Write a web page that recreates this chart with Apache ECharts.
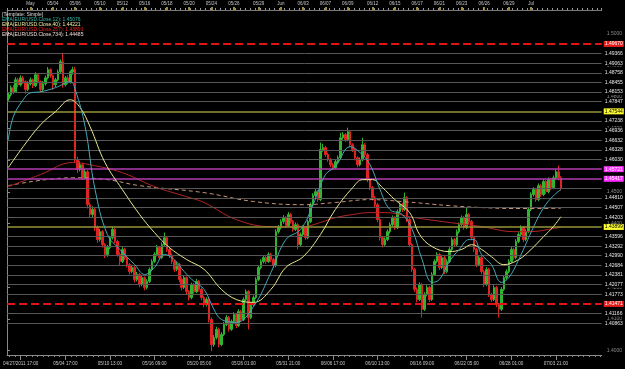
<!DOCTYPE html>
<html><head><meta charset="utf-8">
<script src="https://cdn.jsdelivr.net/npm/echarts@6/dist/echarts.min.js"></script>
<style>html,body{margin:0;padding:0;background:#000}#c{width:625px;height:369px}</style>
</head><body><div id="c"></div>
<script>
// [open, close, low, high]
const candles = [
[1.4795,1.4807,1.4788,1.4815],[1.4807,1.4829,1.4801,1.4836],[1.4829,1.4816,1.4809,1.4838],[1.4816,1.4854,1.4812,1.4862],
[1.4854,1.4838,1.4830,1.4860],[1.4838,1.4860,1.4833,1.4868],[1.4860,1.4848,1.4841,1.4866],[1.4848,1.4823,1.4810,1.4852],
[1.4823,1.4841,1.4818,1.4849],[1.4841,1.4854,1.4836,1.4861],[1.4854,1.4835,1.4828,1.4858],[1.4835,1.4870,1.4831,1.4878],
[1.4870,1.4848,1.4842,1.4874],[1.4848,1.4823,1.4815,1.4852],[1.4823,1.4841,1.4818,1.4850],[1.4841,1.4860,1.4836,1.4867],
[1.4860,1.4886,1.4855,1.4894],[1.4886,1.4867,1.4860,1.4890],[1.4867,1.4838,1.4822,1.4871],[1.4838,1.4854,1.4831,1.4860],
[1.4854,1.4879,1.4849,1.4886],[1.4879,1.4911,1.4874,1.4918],[1.4911,1.4838,1.4829,1.4939],[1.4838,1.4860,1.4833,1.4866],
[1.4860,1.4848,1.4840,1.4868],[1.4848,1.4879,1.4842,1.4884],[1.4879,1.4886,1.4870,1.4895],[1.4886,1.4602,1.4593,1.4895],
[1.4602,1.4571,1.4560,1.4611],[1.4571,1.4586,1.4565,1.4597],[1.4586,1.4545,1.4538,1.4592],[1.4545,1.4564,1.4540,1.4572],
[1.4564,1.4460,1.4448,1.4569],[1.4460,1.4429,1.4418,1.4467],[1.4429,1.4445,1.4421,1.4455],[1.4445,1.4388,1.4377,1.4450],
[1.4388,1.4350,1.4340,1.4394],[1.4350,1.4375,1.4344,1.4383],[1.4375,1.4334,1.4325,1.4380],[1.4334,1.4303,1.4292,1.4339],
[1.4303,1.4325,1.4296,1.4333],[1.4325,1.4356,1.4319,1.4362],[1.4356,1.4382,1.4350,1.4391],[1.4382,1.4344,1.4338,1.4386],
[1.4344,1.4303,1.4296,1.4350],[1.4303,1.4281,1.4270,1.4310],[1.4281,1.4319,1.4276,1.4326],[1.4319,1.4293,1.4286,1.4324],
[1.4293,1.4271,1.4262,1.4298],[1.4271,1.4249,1.4240,1.4276],[1.4249,1.4262,1.4244,1.4270],[1.4262,1.4224,1.4215,1.4266],
[1.4224,1.4240,1.4218,1.4248],[1.4240,1.4208,1.4200,1.4245],[1.4208,1.4230,1.4203,1.4237],[1.4230,1.4199,1.4190,1.4234],
[1.4199,1.4218,1.4193,1.4225],[1.4218,1.4256,1.4213,1.4262],[1.4256,1.4281,1.4250,1.4288],[1.4281,1.4303,1.4276,1.4310],
[1.4303,1.4325,1.4297,1.4333],[1.4325,1.4293,1.4286,1.4330],[1.4293,1.4334,1.4289,1.4341],[1.4334,1.4356,1.4329,1.4372],
[1.4356,1.4319,1.4311,1.4361],[1.4319,1.4300,1.4292,1.4325],[1.4300,1.4281,1.4273,1.4306],[1.4281,1.4256,1.4248,1.4286],
[1.4256,1.4271,1.4250,1.4279],[1.4271,1.4224,1.4216,1.4276],[1.4224,1.4199,1.4190,1.4230],[1.4199,1.4230,1.4194,1.4237],
[1.4230,1.4186,1.4178,1.4234],[1.4186,1.4167,1.4158,1.4191],[1.4167,1.4208,1.4162,1.4214],[1.4208,1.4186,1.4179,1.4213],
[1.4186,1.4218,1.4181,1.4226],[1.4218,1.4193,1.4186,1.4222],[1.4193,1.4167,1.4159,1.4198],[1.4167,1.4145,1.4136,1.4172],
[1.4145,1.4161,1.4139,1.4168],[1.4161,1.4098,1.4089,1.4166],[1.4098,1.4019,1.3998,1.4104],[1.4019,1.4041,1.4012,1.4049],
[1.4041,1.4067,1.4035,1.4075],[1.4067,1.4019,1.4010,1.4072],[1.4019,1.4051,1.4014,1.4058],[1.4051,1.4082,1.4046,1.4090],
[1.4082,1.4104,1.4077,1.4112],[1.4104,1.4067,1.4060,1.4109],[1.4067,1.4092,1.4062,1.4098],[1.4092,1.4114,1.4087,1.4121],
[1.4114,1.4079,1.4071,1.4119],[1.4079,1.4123,1.4074,1.4130],[1.4123,1.4098,1.4090,1.4128],[1.4098,1.4161,1.4093,1.4168],
[1.4161,1.4186,1.4155,1.4193],[1.4186,1.4104,1.4067,1.4190],[1.4104,1.4145,1.4099,1.4152],[1.4145,1.4167,1.4140,1.4174],
[1.4167,1.4224,1.4162,1.4231],[1.4224,1.4262,1.4219,1.4270],[1.4262,1.4281,1.4256,1.4288],[1.4281,1.4293,1.4275,1.4300],
[1.4293,1.4281,1.4273,1.4299],[1.4281,1.4303,1.4276,1.4310],[1.4303,1.4287,1.4279,1.4308],[1.4287,1.4268,1.4260,1.4292],
[1.4268,1.4375,1.4263,1.4382],[1.4375,1.4388,1.4369,1.4396],[1.4388,1.4407,1.4382,1.4414],[1.4407,1.4419,1.4400,1.4427],
[1.4419,1.4394,1.4387,1.4424],[1.4394,1.4429,1.4389,1.4437],[1.4429,1.4407,1.4400,1.4434],[1.4407,1.4382,1.4375,1.4412],
[1.4382,1.4397,1.4377,1.4404],[1.4397,1.4334,1.4319,1.4402],[1.4334,1.4366,1.4329,1.4372],[1.4366,1.4388,1.4360,1.4395],
[1.4388,1.4356,1.4349,1.4392],[1.4356,1.4407,1.4351,1.4413],[1.4407,1.4460,1.4402,1.4467],[1.4460,1.4489,1.4455,1.4496],
[1.4489,1.4501,1.4483,1.4509],[1.4501,1.4476,1.4469,1.4506],[1.4476,1.4634,1.4471,1.4656],[1.4634,1.4640,1.4627,1.4652],
[1.4640,1.4618,1.4611,1.4646],[1.4618,1.4602,1.4595,1.4624],[1.4602,1.4586,1.4578,1.4607],[1.4586,1.4577,1.4569,1.4592],
[1.4577,1.4596,1.4572,1.4603],[1.4596,1.4608,1.4590,1.4615],[1.4608,1.4671,1.4603,1.4687],[1.4671,1.4681,1.4665,1.4689],
[1.4681,1.4665,1.4658,1.4686],[1.4665,1.4690,1.4660,1.4703],[1.4690,1.4649,1.4641,1.4695],[1.4649,1.4634,1.4626,1.4654],
[1.4634,1.4608,1.4600,1.4639],[1.4608,1.4586,1.4578,1.4613],[1.4586,1.4602,1.4581,1.4609],[1.4602,1.4649,1.4597,1.4671],
[1.4649,1.4618,1.4610,1.4654],[1.4618,1.4539,1.4531,1.4623],[1.4539,1.4514,1.4506,1.4545],[1.4514,1.4482,1.4474,1.4519],
[1.4482,1.4460,1.4452,1.4488],[1.4460,1.4413,1.4405,1.4466],[1.4413,1.4356,1.4347,1.4418],[1.4356,1.4334,1.4325,1.4361],
[1.4334,1.4350,1.4328,1.4357],[1.4350,1.4375,1.4345,1.4382],[1.4375,1.4397,1.4369,1.4404],[1.4397,1.4419,1.4391,1.4426],
[1.4419,1.4388,1.4381,1.4424],[1.4388,1.4438,1.4383,1.4445],[1.4438,1.4460,1.4432,1.4467],[1.4460,1.4445,1.4437,1.4466],
[1.4445,1.4482,1.4440,1.4498],[1.4482,1.4413,1.4405,1.4487],[1.4413,1.4334,1.4326,1.4418],[1.4334,1.4256,1.4248,1.4339],
[1.4256,1.4193,1.4185,1.4261],[1.4193,1.4161,1.4152,1.4199],[1.4161,1.4208,1.4156,1.4215],[1.4208,1.4130,1.4104,1.4213],
[1.4130,1.4177,1.4125,1.4184],[1.4177,1.4199,1.4171,1.4206],[1.4199,1.4161,1.4153,1.4204],[1.4161,1.4240,1.4156,1.4247],
[1.4240,1.4281,1.4235,1.4288],[1.4281,1.4303,1.4275,1.4310],[1.4303,1.4262,1.4254,1.4308],[1.4262,1.4293,1.4257,1.4300],
[1.4293,1.4249,1.4241,1.4298],[1.4249,1.4281,1.4244,1.4288],[1.4281,1.4319,1.4276,1.4326],[1.4319,1.4350,1.4314,1.4357],
[1.4350,1.4334,1.4326,1.4355],[1.4334,1.4375,1.4329,1.4382],[1.4375,1.4397,1.4369,1.4404],[1.4397,1.4419,1.4391,1.4426],
[1.4419,1.4388,1.4381,1.4424],[1.4388,1.4429,1.4383,1.4451],[1.4429,1.4407,1.4399,1.4434],[1.4407,1.4356,1.4348,1.4412],
[1.4356,1.4319,1.4311,1.4361],[1.4319,1.4271,1.4263,1.4324],[1.4271,1.4293,1.4266,1.4300],[1.4293,1.4249,1.4241,1.4298],
[1.4249,1.4208,1.4200,1.4254],[1.4208,1.4256,1.4203,1.4263],[1.4256,1.4177,1.4169,1.4261],[1.4177,1.4161,1.4153,1.4182],
[1.4161,1.4199,1.4156,1.4206],[1.4199,1.4145,1.4137,1.4204],[1.4145,1.4130,1.4104,1.4150],[1.4130,1.4193,1.4125,1.4200],
[1.4193,1.4230,1.4188,1.4237],[1.4230,1.4249,1.4224,1.4256],[1.4249,1.4281,1.4244,1.4288],[1.4281,1.4319,1.4276,1.4326],
[1.4319,1.4293,1.4286,1.4324],[1.4293,1.4344,1.4288,1.4351],[1.4344,1.4366,1.4339,1.4373],[1.4366,1.4388,1.4360,1.4395],
[1.4388,1.4350,1.4342,1.4393],[1.4350,1.4375,1.4345,1.4382],[1.4375,1.4445,1.4370,1.4452],[1.4445,1.4492,1.4440,1.4499],
[1.4492,1.4508,1.4486,1.4515],[1.4508,1.4476,1.4469,1.4513],[1.4476,1.4520,1.4471,1.4527],[1.4520,1.4492,1.4485,1.4525],
[1.4492,1.4533,1.4487,1.4540],[1.4533,1.4501,1.4494,1.4538],[1.4501,1.4539,1.4496,1.4546],[1.4539,1.4514,1.4506,1.4544],
[1.4514,1.4545,1.4509,1.4552],[1.4545,1.4564,1.4539,1.4571],[1.4564,1.4545,1.4537,1.4583],[1.4545,1.45117,1.4505,1.4550]
];
// [bar index, value]
const ema12 = [[0,1.4665],[2,1.4737],[6,1.4791],[9,1.4813],[13,1.4816],[19,1.4829],[25,1.4848],[27,1.4823],[31,1.4706],[35,1.4508],
[40,1.4366],[45,1.4319],[51,1.4271],[55,1.4240],[59,1.4262],[63,1.4303],[67,1.4287],[71,1.4249],[75,1.4218],[79,1.4193],[83,1.4130],
[86,1.4098],[92,1.4089],[99,1.4139],[106,1.4246],[112,1.4350],[118,1.4382],[123,1.4460],[128,1.4555],[132,1.4580],[138,1.4643],
[142,1.4624],[146,1.4586],[150,1.4508],[154,1.4445],[159,1.4429],[163,1.4382],[167,1.4287],[171,1.4215],[174,1.4224],[178,1.4281],
[182,1.4319],[186,1.4350],[188,1.4350],[191,1.4303],[195,1.4271],[199,1.4215],[202,1.4230],[206,1.4287],[212,1.4390],[216,1.4450],
[220,1.4488],[223,1.45076]];
const ema40 = [[0,1.4577],[6,1.4643],[13,1.4712],[19,1.4753],[25,1.4791],[29,1.4766],[33,1.4706],[39,1.4593],[46,1.4508],[53,1.4429],
[59,1.4372],[65,1.4325],[72,1.4287],[79,1.4256],[86,1.4193],[92,1.4161],[99,1.4152],[106,1.4193],[112,1.4262],[119,1.4296],[126,1.4366],
[132,1.4445],[139,1.4514],[143,1.4539],[147,1.4539],[151,1.4514],[156,1.4476],[162,1.4435],[166,1.4366],[171,1.4328],[178,1.4312],
[183,1.4319],[187,1.4334],[191,1.4319],[195,1.4296],[200,1.4271],[206,1.4287],[211,1.4319],[216,1.4359],[220,1.4391],[223,1.44221]];
const ema267 = [[0,1.4517],[13,1.4555],[26,1.4593],[33,1.4586],[46,1.4561],[59,1.4517],[72,1.4485],[79,1.4467],[92,1.4413],[106,1.4391],
[119,1.4391],[126,1.4404],[132,1.4419],[139,1.4429],[146,1.4435],[152,1.4435],[164,1.4419],[178,1.4404],[191,1.4391],[204,1.4375],
[211,1.4375],[218,1.4382],[223,1.43893]];
const ema734 = [[0,1.4520],[26,1.4545],[40,1.4539],[53,1.4520],[79,1.4498],[99,1.4470],[119,1.4460],[132,1.4467],[146,1.4476],
[159,1.4470],[178,1.4457],[191,1.4451],[204,1.4448],[223,1.44485]];

const gridLevels = [1.49670,1.49366,1.49063,1.48758,1.48455,1.48153,1.47847,1.47544,1.47238,1.46936,1.46632,1.46328,1.46030,
1.45721,1.45417,1.45117,1.44810,1.44507,1.44203,1.43899,1.43596,1.43292,1.42990,1.42684,1.42381,1.42077,1.41773,1.41471,1.41166,1.40863];
const redLevels = [1.49670, 1.41471];
const yellowLevels = [1.47544, 1.43899];
const magentaLevels = [1.45721, 1.45417];
const lastPrice = 1.45117;
const roundTicks = [1.40,1.41,1.42,1.43,1.44,1.45,1.46,1.47,1.48,1.49,1.50];

const topLabels = ['May','05/04','05/06','05/10','05/12','05/16','05/18','05/20','05/24','05/26','05/29','Jun','06/03','06/07','06/09','06/12','06/15','06/17','06/21','06/23','06/26','06/29','Jul'];
const topLabelBars = [9,18,27,37,46,55,64,73,82,91,101,110,119,128,137,147,156,165,174,183,192,202,211];
const bottomLabels = ['04/27/2011 17:00','05/04 17:00','05/10 13:00','05/16 09:00','05/20 05:00','05/26 01:00','05/31 21:00','06/06 17:00','06/10 13:00','06/16 09:00','06/22 05:00','06/28 01:00','07/03 21:00'];
const bottomLabelBars = [5,23,41,59,77,95,113,131,149,167,185,203,221];

const SLOTS = 240;
const FONT = '"Liberation Sans", Arial, sans-serif';
const cats = []; for (let i = 0; i < SLOTS; i++) cats.push(String(i));

const topMajor = topLabelBars.map(b => b + 0.5);
const botMajor = bottomLabelBars.map(b => b + 0.5);
const topMinor = []; for (let u = 0; u <= SLOTS; u += 2) topMinor.push(u);
const botMinor = []; for (let u = botMajor[0] % 2.25; u <= SLOTS; u += 2.25) botMinor.push(u);
function lab(list, vals) { return v => { let k = 0, d = 1e9; vals.forEach((x, i) => { if (Math.abs(x - v) < d) { d = Math.abs(x - v); k = i; } }); return list[k]; }; }

const same = (a, b) => Math.abs(a - b) < 1e-7;
const special = redLevels.concat(yellowLevels, magentaLevels, [lastPrice]);
const mlData = [];
gridLevels.forEach(v => { if (!special.some(s => same(s, v)) || same(v, lastPrice)) mlData.push({ yAxis: v, lineStyle: { color: '#575757', width: 1, type: 'solid' },
  label: { show: !same(v, lastPrice), formatter: v.toFixed(5), color: '#e8e8e8', backgroundColor: '#000' } }); });
magentaLevels.forEach(v => mlData.push({ yAxis: v, lineStyle: { color: '#b23cb2', width: 1.5, type: 'solid' },
  label: { show: true, formatter: v.toFixed(5), color: '#fff', backgroundColor: '#ff2cff' } }));
yellowLevels.forEach(v => mlData.push({ yAxis: v, lineStyle: { color: '#94943a', width: 1.5, type: 'solid' },
  label: { show: true, formatter: v.toFixed(5), color: '#000', backgroundColor: '#ffff30' } }));
redLevels.forEach(v => mlData.push({ yAxis: v, lineStyle: { color: '#e01414', width: 2, type: [8, 4] },
  label: { show: true, formatter: v.toFixed(5), color: '#fff', backgroundColor: '#e81c1c' } }));
mlData.push({ yAxis: lastPrice, lineStyle: { opacity: 0 },
  label: { show: true, formatter: lastPrice.toFixed(5), color: '#fff', backgroundColor: '#3f93f0' } });

const last = a => a[a.length - 1][1].toFixed(5);
const legend = [
  ['[Template: Simple]', '#dcdcdc'],
  ['EMA(EUR/USD.Close,12): ' + last(ema12), '#35b5a5'],
  ['EMA(EUR/USD.Close,40): ' + last(ema40), '#f0f0a0'],
  ['EMA(EUR/USD.Close,267): ' + last(ema267), '#e82020'],
  ['EMA(EUR/USD.Close,734): ' + last(ema734), '#f2dcdc']
];

const chart = echarts.init(document.getElementById('c'), null, { renderer: 'canvas' });
const hiddenVal = (pos) => ({ type: 'value', min: 0, max: SLOTS, position: pos, splitLine: { show: false } });
chart.setOption({
  backgroundColor: '#000',
  animation: false,
  grid: { left: 0, right: 23, top: 10, bottom: 14 },
  graphic: legend.map((l, i) => ({ type: 'text', left: 2, top: 12 + i * 5, z: 100,
    style: { text: l[0], fill: l[1], font: '5px ' + FONT } })),
  xAxis: [
    { type: 'category', data: cats, boundaryGap: true, show: false },
    Object.assign(hiddenVal('top'), { axisLine: { show: true, lineStyle: { color: '#7a7a7a' } },
      axisTick: { show: true, length: 3, customValues: topMajor, lineStyle: { color: '#d8b830', width: 1.5 } },
      axisLabel: { show: true, customValues: topMajor, formatter: lab(topLabels, topMajor), color: '#c8c8c8', fontSize: 4.5, fontFamily: FONT, margin: 4 } }),
    Object.assign(hiddenVal('top'), { axisLine: { show: false },
      axisTick: { show: true, length: 2, customValues: topMinor, lineStyle: { color: '#9a9a9a' } },
      axisLabel: { show: false } }),
    Object.assign(hiddenVal('bottom'), { axisLine: { show: true, lineStyle: { color: '#8a8a8a' } },
      axisTick: { show: true, length: 5, customValues: botMajor, lineStyle: { color: '#8a8a8a' } },
      axisLabel: { show: true, customValues: botMajor, formatter: lab(bottomLabels, botMajor), color: '#c8c8c8', fontSize: 4.6, fontFamily: FONT, margin: 6 } }),
    Object.assign(hiddenVal('bottom'), { axisLine: { show: false },
      axisTick: { show: true, length: 2, customValues: botMinor, lineStyle: { color: '#8a8a8a' } },
      axisLabel: { show: false } })
  ],
  yAxis: {
    type: 'value', position: 'right', min: 1.3986, max: 1.5074,
    splitLine: { show: false },
    axisLine: { show: true, lineStyle: { color: '#8a8a8a' } },
    axisTick: { show: true, length: 3, customValues: roundTicks, lineStyle: { color: '#8a8a8a' } },
    axisLabel: { show: true, customValues: roundTicks, formatter: v => v.toFixed(4), color: '#8c8c8c', fontSize: 5, fontFamily: FONT, margin: 5 }
  },
  series: [
    { type: 'line', data: [], z: 1, silent: true,
      markLine: { silent: true, symbol: ['none', 'none'], animation: false, precision: 6,
        label: { position: 'end', distance: 2, fontSize: 5, fontFamily: FONT, padding: [1, 1, 0, 1] },
        data: mlData } },
    { type: 'candlestick', data: candles, z: 3, barWidth: 2,
      itemStyle: { color: '#2fb52f', color0: '#e02424', borderColor: '#2fb52f', borderColor0: '#e02424', borderWidth: 1 } },
    { type: 'line', data: ema734, z: 4, showSymbol: false, smooth: 0.4, lineStyle: { color: '#c8947a', width: 1, type: [4, 3] } },
    { type: 'line', data: ema267, z: 4, showSymbol: false, smooth: 0.4, lineStyle: { color: '#b52525', width: 1 } },
    { type: 'line', data: ema40, z: 5, showSymbol: false, smooth: 0.4, lineStyle: { color: '#e8e890', width: 1 } },
    { type: 'line', data: ema12, z: 5, showSymbol: false, smooth: 0.4, lineStyle: { color: '#45a8b8', width: 1 } }
  ]
});
</script></body></html>
